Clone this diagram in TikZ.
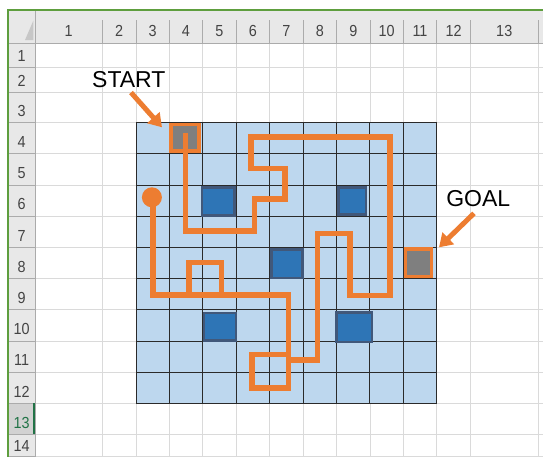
\documentclass[tikz,border=0pt]{standalone}
\usepackage{fontspec}
\setmainfont{Liberation Sans}
\newfontfamily\hdrfont[FakeStretch=0.9]{Liberation Sans}
\usetikzlibrary{arrows.meta}
\definecolor{xorange}{HTML}{ED7D31}
\definecolor{xlight}{HTML}{BDD7EE}
\definecolor{xdark}{HTML}{2E75B6}
\definecolor{xdarkb}{HTML}{41587A}
\definecolor{xgray}{HTML}{7F7F7F}
\definecolor{xgreen}{HTML}{5E9E3E}
\definecolor{xselgreen}{HTML}{217346}
\definecolor{hdrbg}{HTML}{E8E8E8}
\definecolor{hdrsel}{HTML}{D2D2D2}
\definecolor{hdrline}{HTML}{ABABAB}
\definecolor{cellline}{HTML}{DADADA}
\definecolor{hdrtext}{HTML}{444444}
\definecolor{gridline}{HTML}{2A2A2A}
\begin{document}
\begin{tikzpicture}[x=1pt,y=-1pt,
  hdr/.style={font=\hdrfont\fontsize{16}{16}\selectfont, text=hdrtext, inner sep=0pt, anchor=base},
  bigtext/.style={font=\fontsize{23}{23}\selectfont, text=black, inner sep=0pt, anchor=base},
  obst/.style={fill=xdark, draw=xdarkb, line width=2.5pt},
  endcell/.style={fill=xgray, draw=xorange, line width=3.3pt},
  pathline/.style={draw=xorange, line width=5.5pt, line join=miter},
  bigarrow/.style={draw=xorange, line width=5pt, -{Triangle[length=13pt,width=16pt]}, fill=xorange}
]
\useasboundingbox (0,0) rectangle (543,459);
\fill[white] (0,0) rectangle (543,459);
% header backgrounds
\fill[hdrbg] (8,10) rectangle (543,43.3);
\fill[hdrbg] (8,43.3) rectangle (35,456.7);
\fill[hdrsel] (8,403.3) rectangle (35,434.3);
% cell grid lines
\foreach \x in {102.3,136,169.3,202.7,236.2,269.5,303,336.5,370,403.3,436.7,470.5,538}
  \draw[cellline, line width=0.9pt] (\x,43.3) -- (\x,456.7);
\foreach \y in {67.7,92.3,122.7,153.9,185.1,216.2,247.4,278.6,309.8,341,372.1,403.3,434.3,456.7}
  \draw[cellline, line width=0.9pt] (35,\y) -- (543,\y);
% header separators
\foreach \x in {102.3,136,169.3,202.7,236.2,269.5,303,336.5,370,403.3,436.7,470.5,538}
  \draw[hdrline, line width=0.9pt] (\x,20) -- (\x,43.3);
\foreach \y in {67.7,92.3,122.7,153.9,185.1,216.2,247.4,278.6,309.8,341,372.1,403.3,434.3,456.7}
  \draw[hdrline, line width=0.9pt] (8,\y) -- (35,\y);
\draw[hdrline, line width=0.9pt] (8,43.3) -- (543,43.3);
\draw[hdrline, line width=0.9pt] (35,10) -- (35,456.7);
% corner triangle
\fill[black!22] (25,40) -- (33.3,40) -- (33.3,20.7) -- cycle;
% selection marker on row 13
\draw[xselgreen, line width=2pt] (34.3,403.3) -- (34.3,434.3);
% green window border
\draw[xgreen, line width=1.6pt] (543,10) -- (8,10) -- (8,456.7);
% column labels
\foreach \cx/\t in {68.65/1,119.15/2,152.65/3,186/4,219.45/5,252.85/6,286.25/7,319.75/8,353.25/9,386.65/10,420/11,453.6/12,504.25/13}
  \node[hdr] (c\t) at (\cx,36.7) {\t};
% row labels
\foreach \by/\t in {61.4/1,86/2,116.4/3,147.6/4,178.8/5,209.9/6,241.1/7,272.3/8,303.5/9,334.7/10,365.8/11,397/12,451/14}
  \node[hdr] (r\t) at (21.6,\by) {\t};
\node[hdr, text=xselgreen] (r13) at (21.6,428) {13};
% blue board
\fill[xlight] (136,122.7) rectangle (436.7,403.3);
\foreach \x in {136,169.4,202.8,236.2,269.6,303,336.5,369.9,403.3,436.7}
  \draw[gridline, line width=1pt] (\x,122.7) -- (\x,403.3);
\foreach \y in {122.7,153.9,185.1,216.2,247.4,278.6,309.8,341,372.1,403.3}
  \draw[gridline, line width=1pt] (136,\y) -- (436.7,\y);
% obstacles
\draw[obst] (202,187.3) rectangle (234.7,215.4);
\draw[obst] (338.6,187.3) rectangle (366,214.7);
\draw[obst] (271.3,249.6) rectangle (302.7,278);
\draw[obst] (204,313) rectangle (236,340.4);
\draw[obst] (336.3,312.3) rectangle (372,342);
% start and goal cells
\draw[endcell] (171,124.4) rectangle (199,151);
\draw[endcell] (405.7,249) rectangle (431.3,276.7);
% route
\draw[pathline] (185.7,132.7) -- (185.7,230.8) -- (254.5,230.8) -- (254.5,198.8)
  -- (285.2,198.8) -- (285.2,168.4) -- (251.2,168.4) -- (251.2,137.2)
  -- (390,137.2) -- (390,295.5) -- (350,295.5) -- (350,233.3) -- (317.7,233.3)
  -- (317.7,360) -- (288.3,360) -- (288.3,388.2) -- (252,388.2) -- (252,354.3)
  -- (288.3,354.3) -- (288.3,294.8) -- (188.8,294.8) -- (188.8,262.5)
  -- (221.3,262.5) -- (221.3,294.8) -- (152.8,294.8) -- (152.8,197.3);
\fill[xorange] (151.9,197.3) circle[radius=10pt];
% labels and arrows
\node[bigtext] (starttxt) at (128.8,87.3) {START};
\node[bigtext] (goaltxt) at (478.3,206) {GOAL};
\coordinate (starttail) at (131,92.5);
\coordinate (starttip) at (162,127.3);
\coordinate (goaltail) at (474,213.3);
\coordinate (goaltip) at (439,247.3);
\draw[bigarrow] (starttail) -- (starttip);
\draw[bigarrow] (goaltail) -- (goaltip);
\end{tikzpicture}
\end{document}
